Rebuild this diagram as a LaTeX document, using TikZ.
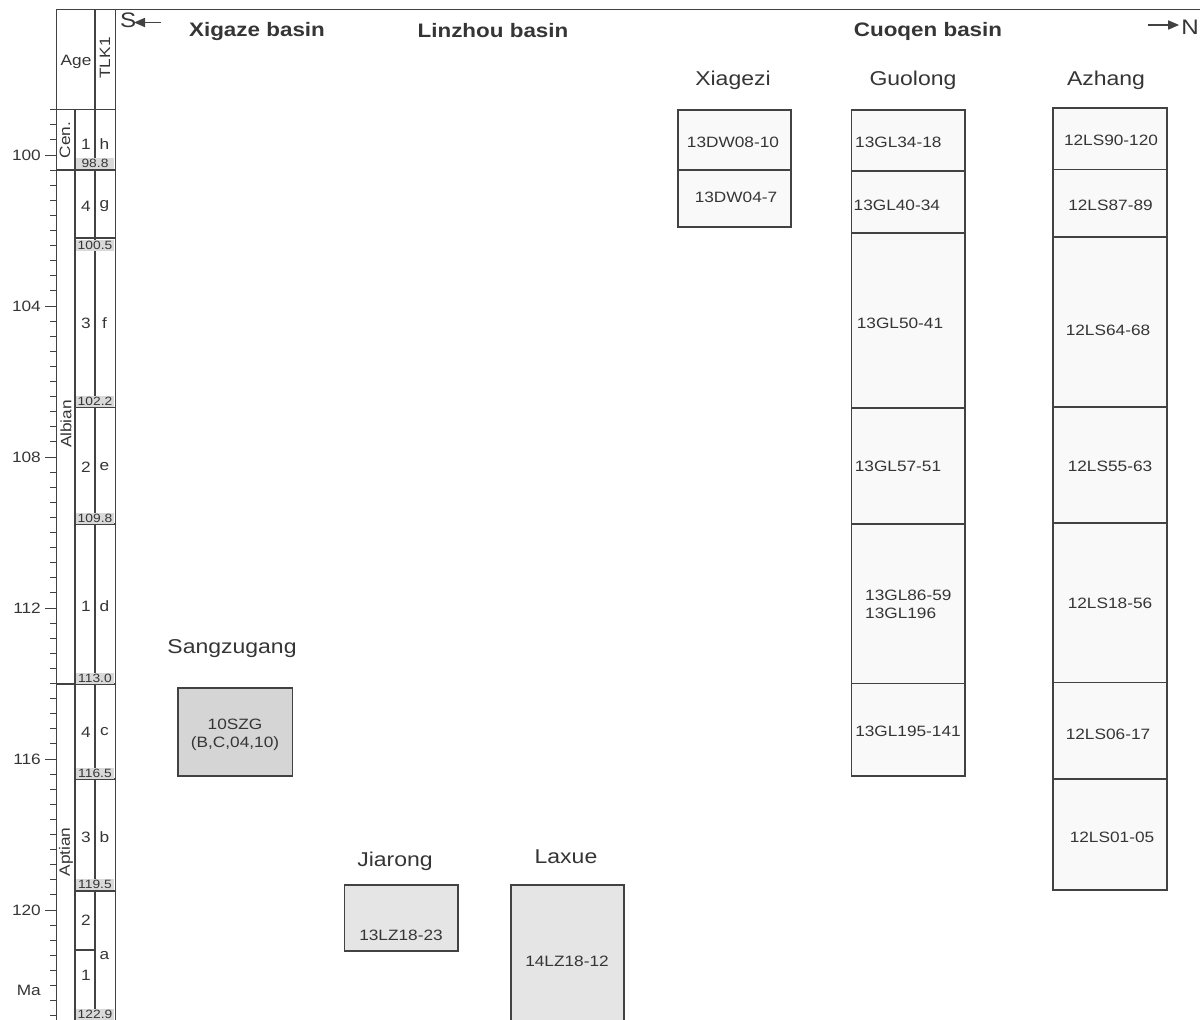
\documentclass[tikz,border=0pt]{standalone}
\usepackage{fontspec}
\setmainfont{Liberation Sans}[FakeStretch=1.15]
\usetikzlibrary{arrows.meta}
\definecolor{tc}{HTML}{353535}
\definecolor{lc}{HTML}{424242}
\definecolor{gbox}{HTML}{D9D9D9}
\definecolor{wfill}{HTML}{F9F9F9}
\definecolor{dfill}{HTML}{D5D5D5}
\definecolor{mfill}{HTML}{E5E5E5}
\newcommand\smpl[6]{\node[sbox,fill=#6,anchor=north west,minimum width={#4-#2},minimum height={#5-#3}] (#1) at (#2,#3) {};}
\begin{document}
\begin{tikzpicture}[x=1pt,y=-1pt,
  txt/.style={text=tc,inner sep=0pt,font=\fontsize{15}{17}\selectfont},
  hdr/.style={text=tc,inner sep=0pt,font=\fontsize{19.5}{22}\selectfont\bfseries},
  sec/.style={text=tc,inner sep=0pt,font=\fontsize{20}{24}\selectfont},
  lab/.style={text=tc,inner sep=0pt,font=\fontsize{15}{18}\selectfont},
  glab/.style={fill=gbox,text=tc,inner sep=0pt,minimum width=38,minimum height=11,font=\fontsize{12}{12}\selectfont},
  sbox/.style={draw=lc,line width=1.1pt,inner sep=0pt,outer sep=0pt},
  thinl/.style={draw=lc,line width=1pt},
  thickl/.style={draw=lc,line width=1.4pt},
  arr/.style={draw=lc,line width=1.7pt,-{Triangle[length=11pt,width=9pt]}}
]
\useasboundingbox (0,0) rectangle (1200,1020);
\clip (0,0) rectangle (1200,1020);

% ---------- frame and age columns ----------
\draw[thinl] (56,1025) -- (56,9) -- (1200,9);
\draw[thinl] (115,9) -- (115,1025);
\draw[thickl] (95,9) -- (95,1025);
\draw[thickl] (75,109) -- (75,1025);
\draw[thinl] (56,109) -- (115,109);
\draw[thickl] (56,170) -- (115,170);
\draw[thickl] (75,238) -- (115,238);
\draw[thickl] (75,407.5) -- (115,407.5);
\draw[thickl] (75,524) -- (115,524);
\draw[thickl] (56,684) -- (115,684);
\draw[thickl] (75,779) -- (115,779);
\draw[thickl] (75,891) -- (115,891);
\draw[thickl] (75,950) -- (96,950);

% ticks
\foreach \k in {-3,...,57}{
  \pgfmathsetmacro\yy{155+15.1*\k}
  \pgfmathtruncatemacro\mm{mod(\k+30,10)}
  \ifnum\mm=0 \draw[thinl] (45,\yy) -- (56,\yy); \else \draw[thinl] (50,\yy) -- (56,\yy); \fi
}
\node[txt,anchor=east] (t100) at (41,155) {100};
\node[txt,anchor=east] (t104) at (41,306) {104};
\node[txt,anchor=east] (t108) at (41,457) {108};
\node[txt,anchor=east] (t112) at (41,608) {112};
\node[txt,anchor=east] (t116) at (41,759) {116};
\node[txt,anchor=east] (t120) at (41,910) {120};
\node[txt,anchor=east] (tma) at (41,990) {Ma};

% headers of the age column
\node[txt] (age) at (76,62) {Age};
\node[txt,rotate=90] (tlk) at (105,58) {TLK1};
\node[txt,rotate=90] (cen) at (65,140) {Cen.};
\node[txt,rotate=90] (alb) at (66,424) {Albian};
\node[txt,rotate=90] (apt) at (66,852) {Aptian};

% stage numbers and letters
\node[txt] (s1h) at (86,144) {1};  \node[txt] (lh) at (104.5,144) {h};
\node[txt] (s4g) at (86,206) {4};  \node[txt] (lg) at (104.5,206) {g};
\node[txt] (s3f) at (86,323) {3};  \node[txt] (lf) at (104.5,323) {f};
\node[txt] (s2e) at (86,467) {2};  \node[txt] (le) at (104.5,467) {e};
\node[txt] (s1d) at (86,606) {1};  \node[txt] (ld) at (104.5,606) {d};
\node[txt] (s4c) at (86,732) {4};  \node[txt] (lc) at (104.5,732) {c};
\node[txt] (s3b) at (86,837) {3};  \node[txt] (lb) at (104.5,837) {b};
\node[txt] (s2a) at (86,920) {2};  \node[txt] (la) at (104.5,956) {a};
\node[txt] (s1a) at (86,975) {1};

% grey boundary labels
\node[glab] (b988) at (95,163) {98.8};
\node[glab] (b1005) at (95,245.5) {100.5};
\node[glab] (b1022) at (95,401.5) {102.2};
\node[glab] (b1098) at (95,518) {109.8};
\node[glab] (b1130) at (95,678) {113.0};
\node[glab] (b1165) at (95,773) {116.5};
\node[glab] (b1195) at (95,884.5) {119.5};
\node[glab] (b1229) at (95,1014) {122.9};

% ---------- top header ----------
\node[sec,anchor=west,font=\fontsize{21}{24}\selectfont] (south) at (120,20) {S};
\coordinate (sa1) at (161,22.5);
\coordinate (sa2) at (134,22.5);
\draw[arr] (sa1) -- (sa2);
\node[sec,anchor=east,font=\fontsize{21}{24}\selectfont] (north) at (1199,27) {N};
\coordinate (na1) at (1148,25);
\coordinate (na2) at ([xshift=-2pt]north.west |- na1);
\draw[arr] (na1) -- (na2);
\node[hdr] (hxig) at (257,31) {Xigaze basin};
\node[hdr] (hlin) at (493,31) {Linzhou basin};
\node[hdr] (hcuo) at (928,31) {Cuoqen basin};

% ---------- section names ----------
\node[sec] (nxia) at (733,80) {Xiagezi};
\node[sec] (ngl) at (913,80) {Guolong};
\node[sec] (naz) at (1106,80) {Azhang};
\node[sec] (nsz) at (232,649) {Sangzugang};
\node[sec] (njr) at (395,861) {Jiarong};
\node[sec] (nlx) at (566,857) {Laxue};

% ---------- sample boxes ----------
% Xiagezi
\smpl{xz1}{678}{110}{791}{170}{wfill}
\smpl{xz2}{678}{170}{791}{227}{wfill}
\node[lab] (xz1t) at (733,142) {13DW08-10};
\node[lab] (xz2t) at (736,197) {13DW04-7};
% Guolong
\smpl{gl1}{851.5}{110}{965}{171}{wfill}
\smpl{gl2}{851.5}{171}{965}{233}{wfill}
\smpl{gl3}{851.5}{233}{965}{408}{wfill}
\smpl{gl4}{851.5}{408}{965}{524}{wfill}
\smpl{gl5}{851.5}{524}{965}{683.5}{wfill}
\smpl{gl6}{851.5}{683.5}{965}{776}{wfill}
\node[lab,anchor=west] (gl1t) at (855,142.5) {13GL34-18};
\node[lab,anchor=west] (gl2t) at (853.5,205) {13GL40-34};
\node[lab] (gl3t) at (900,323) {13GL50-41};
\node[lab] (gl4t) at (898,466) {13GL57-51};
\node[lab,anchor=west,align=left] (gl5t) at (865,604.5) {13GL86-59\\13GL196};
\node[lab] (gl6t) at (908,731) {13GL195-141};
% Azhang
\smpl{az1}{1053}{108}{1167}{169.5}{wfill}
\smpl{az2}{1053}{169.5}{1167}{237}{wfill}
\smpl{az3}{1053}{237}{1167}{407}{wfill}
\smpl{az4}{1053}{407}{1167}{523}{wfill}
\smpl{az5}{1053}{523}{1167}{682.5}{wfill}
\smpl{az6}{1053}{682.5}{1167}{779}{wfill}
\smpl{az7}{1053}{779}{1167}{890}{wfill}
\node[lab] (az1t) at (1111,140.5) {12LS90-120};
\node[lab] (az2t) at (1110.5,205) {12LS87-89};
\node[lab] (az3t) at (1108,330) {12LS64-68};
\node[lab] (az4t) at (1110,466) {12LS55-63};
\node[lab] (az5t) at (1110,603) {12LS18-56};
\node[lab] (az6t) at (1108,734) {12LS06-17};
\node[lab] (az7t) at (1112,837) {12LS01-05};
% Sangzugang
\smpl{sz}{178}{688}{292.5}{776}{dfill}
\node[lab,align=center] (szt) at (235,735) {10SZG\\(B,C,04,10)};
% Jiarong, Laxue
\smpl{jr}{344.5}{885}{458}{951}{mfill}
\node[lab] (jrt) at (401,935.5) {13LZ18-23};
\smpl{lx}{511}{885}{624}{1030}{mfill}
\node[lab] (lxt) at (567,961) {14LZ18-12};
\end{tikzpicture}
\end{document}
